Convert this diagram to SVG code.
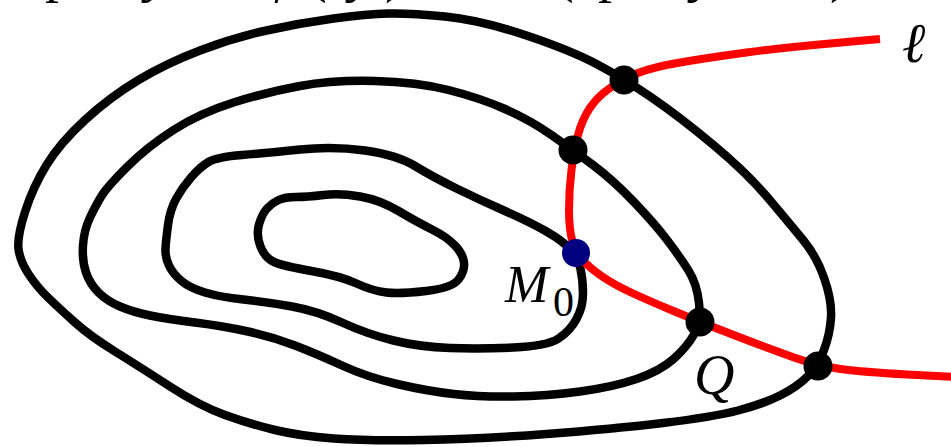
<svg xmlns="http://www.w3.org/2000/svg" width="951" height="447" viewBox="0 0 951 447">
<style>
.contour{fill:none;stroke:#000;stroke-width:8.5;stroke-linejoin:round}
.ray{fill:none;stroke:#ff0000;stroke-width:8;stroke-linejoin:round}
.pt{fill:#000}
.m0{fill:#000080}
.lbl{font-family:"Liberation Serif","DejaVu Serif",serif;fill:#000}
.it{font-style:italic}
</style>
<rect width="951" height="447" fill="#fff"/>
<g id="formula-cropped" class="lbl it" font-size="56">
<text x="45" y="-9" font-style="normal">p</text>
<text x="146" y="-9">y</text>
<text x="265" y="-9">φ</text>
<text x="308" y="-9" font-style="normal">(</text>
<text x="350" y="-9">y</text>
<text x="385" y="-9" font-style="normal">)</text>
<text x="555" y="-9" font-style="normal">(</text>
<text x="598" y="-9" font-style="normal">p</text>
<text x="692" y="-9">y</text>
<text x="830" y="-9" font-style="normal">)</text>
</g>
<g id="level-curves">
<path id="contour1" class="contour" d="M 25,212 Q 33,187 46.5,165 Q 60,143 85,120 Q 110,97 138.5,80 Q 167,63 200,50.5 Q 233,38 266.5,30.5 Q 300,23 333.5,18.5 Q 367,14 388.5,13.5 Q 410,13 445,16.5 Q 480,20 525,35 Q 570,50 596.5,64 Q 623,78 651.5,97.5 Q 680,117 713.5,145 Q 747,173 768.5,198.5 Q 790,224 803.5,240.5 Q 817,257 824.5,279 Q 832,301 831,317.5 Q 830,334 824,350 Q 818,366 807.5,376.5 Q 797,387 780,395.5 Q 763,404 738,410.5 Q 713,417 663,423 Q 613,429 546.5,434 Q 480,439 423.5,440 Q 367,441 333.5,438.5 Q 300,436 275,430 Q 250,424 225,415 Q 200,406 170,386.5 Q 140,367 115,351.5 Q 90,336 75,322.5 Q 60,309 48.5,298 Q 37,287 28.5,274 Q 20,261 18.5,249 Q 17,237 25,212 Z"/>
<path id="contour2" class="contour" d="M 83,245.5 Q 84,230 90,217.5 Q 96,205 101.5,196 Q 107,187 127,167 Q 147,147 173.5,130 Q 200,113 233.5,102.5 Q 267,92 300,86 Q 333,80 375,81 Q 417,82 448.5,90 Q 480,98 505,109 Q 530,120 551.5,135 Q 573,150 593,165 Q 613,180 634,202 Q 655,224 667.5,240.5 Q 680,257 688.5,270.5 Q 697,284 699,303 Q 701,322 694,334.5 Q 687,347 673.5,359 Q 660,371 636.5,379 Q 613,387 580,391.5 Q 547,396 513.5,396.5 Q 480,397 453.5,394 Q 427,391 397,384 Q 367,377 342,365.5 Q 317,354 295,345.5 Q 273,337 248,331.5 Q 223,326 195,322.5 Q 167,319 150,315.5 Q 133,312 120,306.5 Q 107,301 98.5,292.5 Q 90,284 86,272.5 Q 82,261 83,245.5 Z"/>
<path id="contour3" class="contour" d="M 168,225 Q 170,210 176,199 Q 182,188 191,177.5 Q 200,167 208.5,162 Q 217,157 242,155 Q 267,153 300,149.5 Q 333,146 365,150.5 Q 397,155 415,166 Q 433,177 456.5,188.5 Q 480,200 505,211 Q 530,222 546.5,231.5 Q 563,241 570.5,249.5 Q 578,258 580.5,269 Q 583,280 583,293.5 Q 583,307 576.5,319 Q 570,331 558.5,338.5 Q 547,346 513.5,347.5 Q 480,349 450,348 Q 420,347 393.5,340.5 Q 367,334 342,322.5 Q 317,311 292,306.5 Q 267,302 243.5,299.5 Q 220,297 205,292.5 Q 190,288 181.5,281 Q 173,274 169,265.5 Q 165,257 165.5,248.5 Q 166,240 168,225 Z"/>
<path id="contour4" class="contour" d="M 259,224.5 Q 262,214 267,208.5 Q 272,203 278.5,200 Q 285,197 296,197 Q 307,197 323.5,195 Q 340,193 360,196.5 Q 380,200 398.5,211 Q 417,222 432,229.5 Q 447,237 455,245.5 Q 463,254 464,262.5 Q 465,271 458.5,279.5 Q 452,288 426,291 Q 400,294 386.5,292.5 Q 373,291 356.5,283.5 Q 340,276 311.5,271 Q 283,266 274,262 Q 265,258 260.5,246.5 Q 256,235 259,224.5 Z"/>
</g>
<g id="connectors">
<path id="line-l" class="ray" d="M 880,39 L 830,43.5 Q 780,48 746.5,52.5 Q 713,57 683,62 Q 653,67 638,73 Q 623,79 610,88 Q 597,97 589.5,108.5 Q 582,120 578,135 Q 574,150 571.5,170 Q 569,190 569,210 Q 569,230 572.5,241.5 Q 576,253 583,260.5 Q 590,268 601.5,276 Q 613,284 630,292 Q 647,300 673.5,311 Q 700,322 735,335.5 Q 770,349 794,357.5 Q 818,366 840.5,369 Q 863,372 907,374.5 L 956,377"/>
</g>
<g id="points">
<circle id="p1" class="pt" cx="624" cy="80" r="14.5"/>
<circle id="p2" class="pt" cx="573" cy="150" r="14.5"/>
<circle id="Q" class="pt" cx="700" cy="322" r="14.5"/>
<circle id="p4" class="pt" cx="818" cy="366" r="14.5"/>
<circle id="M0" class="m0" cx="576" cy="253" r="14"/>
</g>
<g id="labels" class="lbl">
<text x="902" y="62" font-size="56" class="it" font-family="DejaVu Serif, serif">ℓ</text>
<text x="505" y="302" font-size="52" class="it">M<tspan x="553" y="316" font-size="42" font-style="normal">0</tspan></text>
<text x="694" y="394" font-size="56" class="it">Q</text>
</g>
</svg>
